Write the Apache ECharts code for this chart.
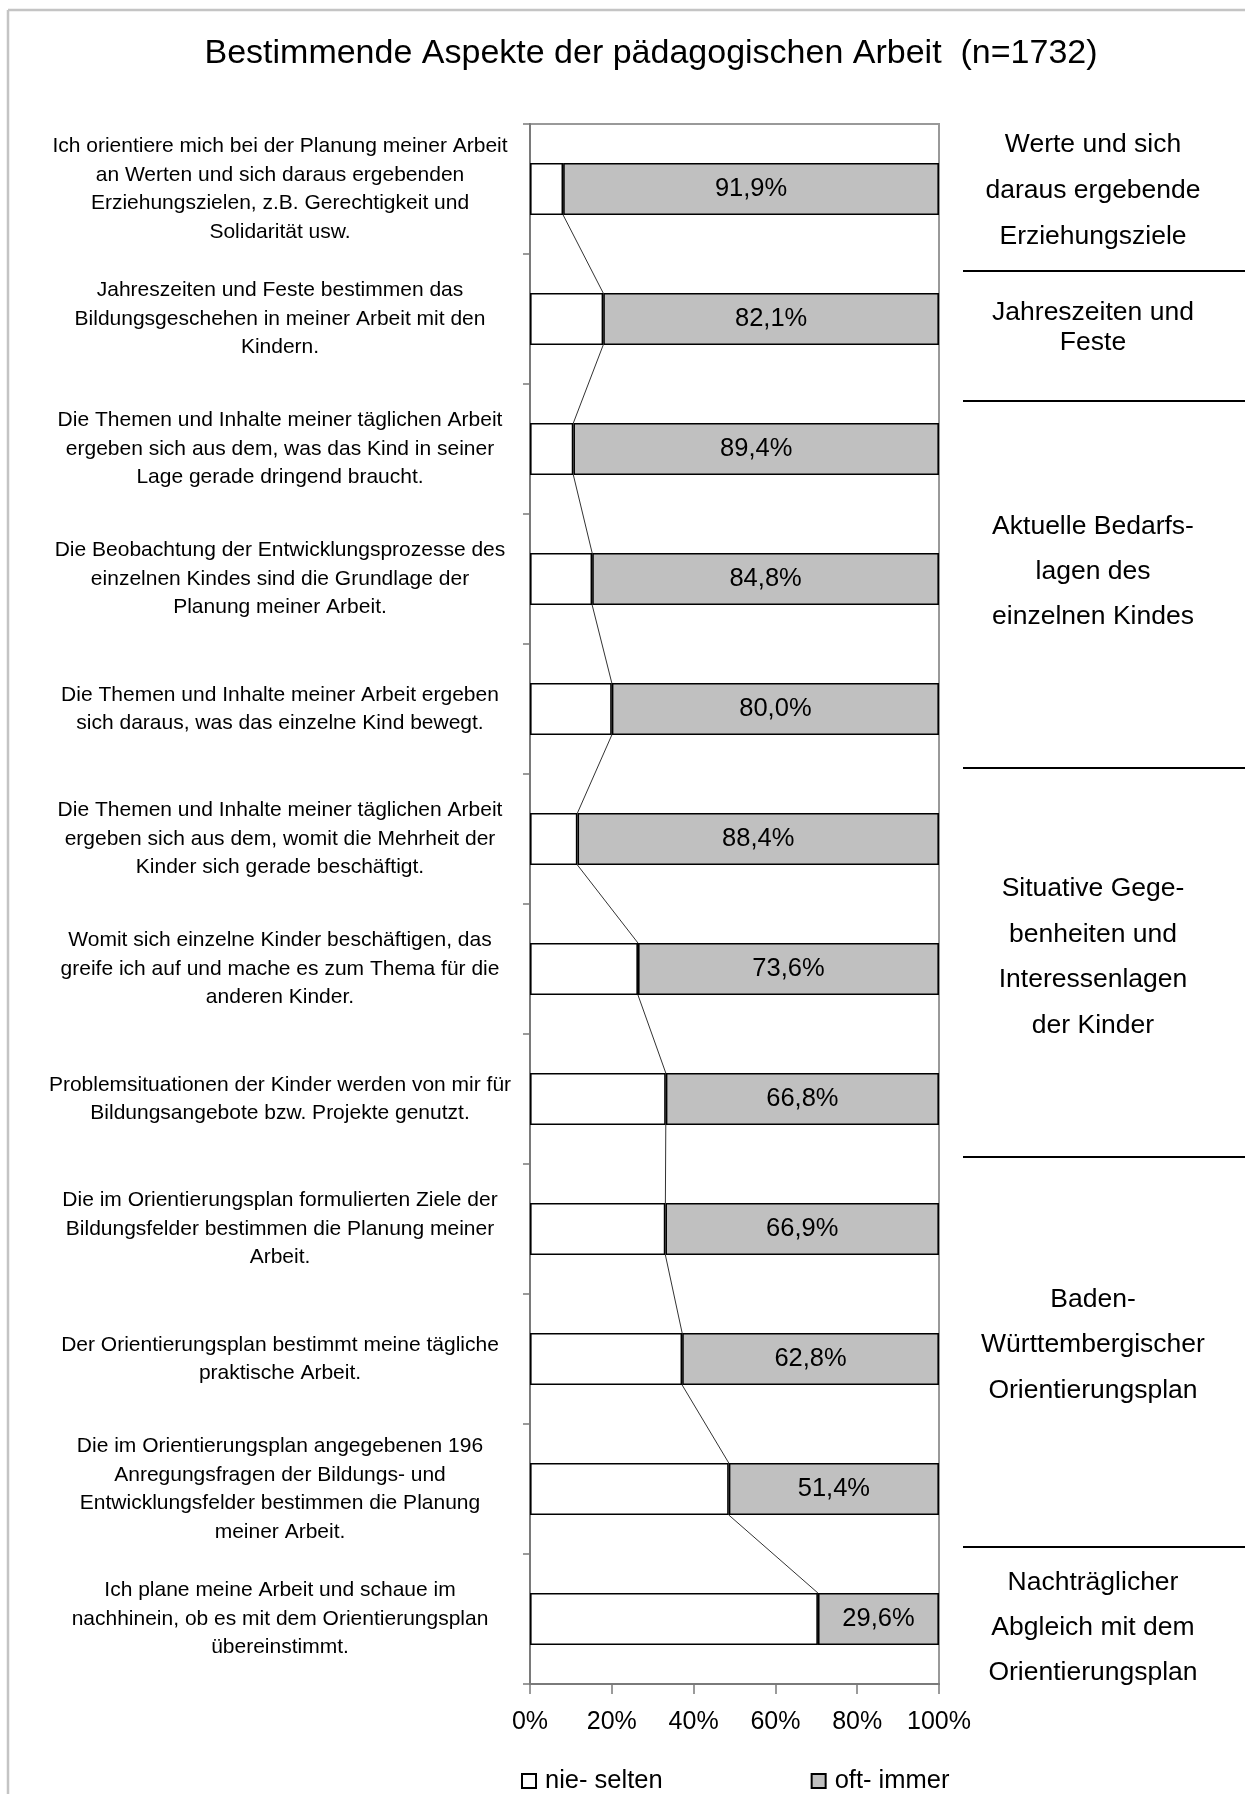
<!DOCTYPE html>
<html>
<head>
<meta charset="utf-8">
<script src="https://cdn.jsdelivr.net/npm/echarts@6/dist/echarts.min.js"></script>
<style>
html,body{margin:0;padding:0;background:#fff;}
#chart{width:1245px;height:1794px;}
</style>
</head>
<body>
<div id="chart"></div>
<script>
// ---- data ----
const categories = [
  "Ich orientiere mich bei der Planung meiner Arbeit\nan Werten und sich daraus ergebenden\nErziehungszielen, z.B. Gerechtigkeit und\nSolidarität usw.",
  "Jahreszeiten und Feste bestimmen das\nBildungsgeschehen in meiner Arbeit mit den\nKindern.",
  "Die Themen und Inhalte meiner täglichen Arbeit\nergeben sich aus dem, was das Kind in seiner\nLage gerade dringend braucht.",
  "Die Beobachtung der Entwicklungsprozesse des\neinzelnen Kindes sind die Grundlage der\nPlanung meiner Arbeit.",
  "Die Themen und Inhalte meiner Arbeit ergeben\nsich daraus, was das einzelne Kind bewegt.",
  "Die Themen und Inhalte meiner täglichen Arbeit\nergeben sich aus dem, womit die Mehrheit der\nKinder sich gerade beschäftigt.",
  "Womit sich einzelne Kinder beschäftigen, das\ngreife ich auf und mache es zum Thema für die\nanderen Kinder.",
  "Problemsituationen der Kinder werden von mir für\nBildungsangebote bzw. Projekte genutzt.",
  "Die im Orientierungsplan formulierten Ziele der\nBildungsfelder bestimmen die Planung meiner\nArbeit.",
  "Der Orientierungsplan bestimmt meine tägliche\npraktische Arbeit.",
  "Die im Orientierungsplan angegebenen 196\nAnregungsfragen der Bildungs- und\nEntwicklungsfelder bestimmen die Planung\nmeiner Arbeit.",
  "Ich plane meine Arbeit und schaue im\nnachhinein, ob es mit dem Orientierungsplan\nübereinstimmt."
];
const nieSelten = [8.1, 17.9, 10.6, 15.2, 20.0, 11.6, 26.4, 33.2, 33.1, 37.2, 48.6, 70.4];
const oftImmer  = [91.9, 82.1, 89.4, 84.8, 80.0, 88.4, 73.6, 66.8, 66.9, 62.8, 51.4, 29.6];
const xTicks = [0, 20, 40, 60, 80, 100];
const seriesNames = ["nie- selten", "oft- immer"];
const titleText = "Bestimmende Aspekte der pädagogischen Arbeit  (n=1732)";
const groupNames = [
  "Werte und sich\ndaraus ergebende\nErziehungsziele",
  "Jahreszeiten und\nFeste",
  "Aktuelle Bedarfs-\nlagen des\neinzelnen Kindes",
  "Situative Gege-\nbenheiten und\nInteressenlagen\nder Kinder",
  "Baden-\nWürttembergischer\nOrientierungsplan",
  "Nachträglicher\nAbgleich mit dem\nOrientierungsplan"
];

// ---- layout (pixels, not data) ----
const FONT = "'Liberation Sans', Arial, sans-serif";
const groupLabelY = [191, 328, 572, 957, 1345, 1628];
const groupLineH  = [46, 30, 45, 45.5, 45.5, 45];
const separatorY  = [271, 401, 768, 1157, 1547];

// series lines connecting bar boundaries
const connData = [];
for (let i = 0; i < nieSelten.length - 1; i++) {
  connData.push([nieSelten[i], i, nieSelten[i + 1], i + 1]);
}

const graphics = [
  { type: 'line', shape: { x1: 8, y1: 10, x2: 1245, y2: 10 }, style: { stroke: '#c4c4c4', lineWidth: 2.5 }, silent: true },
  { type: 'line', shape: { x1: 8, y1: 10, x2: 8, y2: 1794 }, style: { stroke: '#c4c4c4', lineWidth: 2.5 }, silent: true },
  { type: 'text', style: { text: titleText, x: 651, y: 54, align: 'center', verticalAlign: 'middle',
      fontSize: 34, fontFamily: FONT, fill: '#000' } }
];
groupNames.forEach((g, i) => {
  graphics.push({ type: 'text', style: { text: g, x: 1093, y: groupLabelY[i], align: 'center', verticalAlign: 'middle',
      fontSize: 26.5, fontFamily: FONT, fill: '#000', lineHeight: groupLineH[i] } });
});
separatorY.forEach(y => {
  graphics.push({ type: 'line', shape: { x1: 963, y1: y, x2: 1245, y2: y }, style: { stroke: '#000', lineWidth: 2 }, silent: true });
});

const chart = echarts.init(document.getElementById('chart'), null, { renderer: 'canvas' });
chart.setOption({
  backgroundColor: '#fff',
  animation: false,
  textStyle: { fontFamily: FONT },
  grid: { left: 530, right: 306, top: 124, bottom: 110, show: true, borderColor: '#999', borderWidth: 2, backgroundColor: '#fff' },
  legend: {
    data: seriesNames,
    left: 521, top: 1768, padding: 0,
    icon: 'rect', itemWidth: 14, itemHeight: 14, itemGap: 148,
    textStyle: { fontSize: 25.5, color: '#000', fontFamily: FONT, padding: [0, 0, 0, 4] },
    selectedMode: false
  },
  xAxis: {
    type: 'value', min: 0, max: 100, interval: 20,
    axisLine: { show: true, lineStyle: { color: '#7a7a7a', width: 2 } },
    axisTick: { show: true, length: 10, lineStyle: { color: '#7a7a7a', width: 1.5 } },
    splitLine: { show: false },
    axisLabel: { formatter: v => xTicks.includes(v) ? v + '%' : '', fontSize: 25, color: '#000', margin: 26, fontFamily: FONT }
  },
  yAxis: {
    type: 'category', data: categories, inverse: true,
    axisLine: { show: true, lineStyle: { color: '#7a7a7a', width: 2 } },
    axisTick: { show: true, length: 7, lineStyle: { color: '#7a7a7a', width: 1.5 } },
    axisLabel: { interval: 0, align: 'center', margin: 250, fontSize: 21, lineHeight: 28.5, color: '#000', fontFamily: FONT }
  },
  series: [
    {
      name: seriesNames[0], type: 'bar', stack: 'total', data: nieSelten, barWidth: '40%',
      itemStyle: { color: '#ffffff', borderColor: '#000', borderWidth: 1.6 },
      emphasis: { disabled: true }
    },
    {
      name: seriesNames[1], type: 'bar', stack: 'total', data: oftImmer, barWidth: '40%',
      itemStyle: { color: '#c0c0c0', borderColor: '#000', borderWidth: 1.6 },
      label: { show: true, position: 'inside', fontSize: 25.5, color: '#000', fontFamily: FONT,
        formatter: p => p.value.toFixed(1).replace('.', ',') + '%' },
      emphasis: { disabled: true }
    },
    {
      type: 'custom', name: 'conn', data: connData, silent: true, z: 1,
      encode: { x: [0, 2], y: [1, 3] },
      renderItem: function (params, api) {
        const p1 = api.coord([api.value(0), api.value(1)]);
        const p2 = api.coord([api.value(2), api.value(3)]);
        const half = api.size([0, 1])[1] * 0.2;
        return {
          type: 'line',
          shape: { x1: p1[0], y1: p1[1] + half, x2: p2[0], y2: p2[1] - half },
          style: { stroke: '#333', lineWidth: 1 }
        };
      }
    }
  ],
  graphic: graphics
});
</script>
</body>
</html>
